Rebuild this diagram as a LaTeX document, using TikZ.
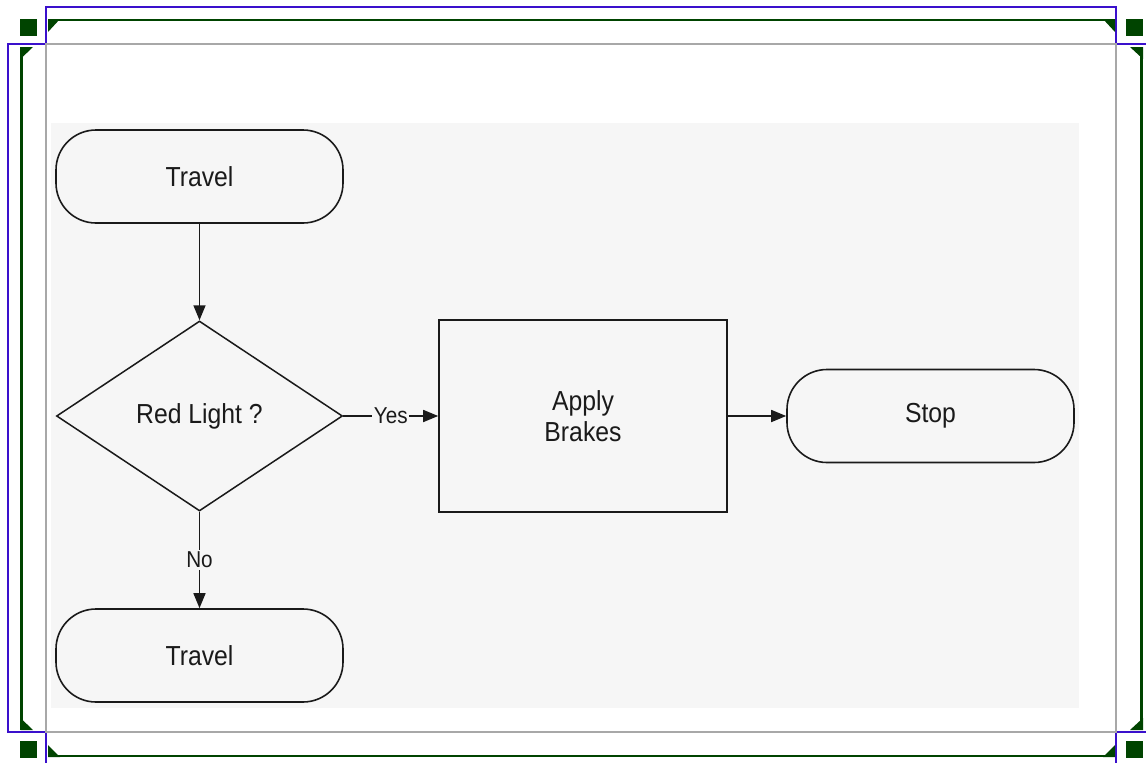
\documentclass[tikz,border=0pt]{standalone}
\usepackage{fontspec}
\setmainfont{Liberation Sans}
\newfontfamily\chartfont[FakeStretch=0.9]{Liberation Sans}
\usetikzlibrary{shapes.geometric,arrows.meta}

\definecolor{selblue}{HTML}{3A10CC}
\definecolor{handlegreen}{HTML}{004400}
\definecolor{framegrey}{HTML}{A8A8A8}
\definecolor{canvas}{HTML}{F6F6F6}
\definecolor{ink}{HTML}{1A1A1A}

\tikzset{
  boxtext/.style={font=\chartfont\fontsize{27.5}{31}\selectfont, text=ink, align=center},
  terminal/.style={boxtext, draw=ink, line width=1.6pt, rounded corners=40pt,
    minimum width=287pt, minimum height=93pt, inner sep=0pt},
  decision/.style={boxtext, diamond, draw=ink, line width=1.5pt,
    minimum width=286pt, minimum height=190pt, inner sep=0pt, aspect=1.5},
  process/.style={boxtext, rectangle, draw=ink, line width=1.6pt,
    minimum width=288pt, minimum height=192pt, inner sep=0pt},
  flow/.style={draw=ink, line width=1.6pt, -{Triangle[length=15pt,width=12pt]}},
  edgelabel/.style={fill=canvas, inner sep=1.5pt, text=ink,
    font=\chartfont\fontsize{23}{25}\selectfont},
  selline/.style={draw=selblue, line width=2.8pt},
  greenline/.style={draw=handlegreen, line width=2.4pt},
  greentip/.style={fill=handlegreen},
  handle/.style={fill=handlegreen}
}

\begin{document}
\begin{tikzpicture}[x=1pt,y=-1pt]
  \useasboundingbox (0,0) rectangle (1146,763);
  \clip (0,0) rectangle (1146,763);
  \fill[white] (0,0) rectangle (1146,763);

  % selection outlines
  \draw[selline] (46,7) rectangle (1116,790);
  \draw[selline] (8,44) rectangle (1170,732);

  % picture frame and canvas
  \filldraw[fill=white, draw=framegrey, line width=2.4pt] (46,44) rectangle (1116,732);
  \fill[canvas] (51,123) rectangle (1079,708);

  % green guide lines with mitred ends
  \draw[greenline] (48,20) -- (1115,20);
  \draw[greenline] (48,756) -- (1115,756);
  \draw[greenline] (21.5,47) -- (21.5,730);
  \draw[greenline] (1141.5,47) -- (1141.5,730);
  \fill[greentip] (48,19) -- (60,19) -- (48,32) -- cycle;
  \fill[greentip] (1103,19) -- (1115,19) -- (1115,32) -- cycle;
  \fill[greentip] (48,745) -- (48,757) -- (60,757) -- cycle;
  \fill[greentip] (1103,757) -- (1115,757) -- (1115,745) -- cycle;
  \fill[greentip] (20.5,47) -- (33,47) -- (20.5,59) -- cycle;
  \fill[greentip] (1130,47) -- (1143,47) -- (1143,59) -- cycle;
  \fill[greentip] (20.5,718) -- (20.5,730) -- (33,730) -- cycle;
  \fill[greentip] (1130,730) -- (1143,730) -- (1143,718) -- cycle;

  % corner handles
  \fill[handle] (20,19) rectangle (37,36);
  \fill[handle] (1126,19) rectangle (1143,36);
  \fill[handle] (20,741) rectangle (37,758);
  \fill[handle] (1126,741) rectangle (1143,758);

  % flowchart
  \node[terminal] (travelA) at (199.5,176.5) {Travel};
  \node[decision] (redlight) at (199.5,416) {Red Light ?};
  \node[process] (brakes) at (583,416) {Apply\\Brakes};
  \node[terminal] (stop) at (930.5,416) {Stop};
  \node[terminal] (travelB) at (199.5,655.5) {Travel};

  \draw[flow] (travelA.south) -- (redlight.north);
  \draw[flow] (redlight.east) -- node[edgelabel] {Yes} (brakes.west);
  \draw[flow] (brakes.east) -- (stop.west);
  \draw[flow] (redlight.south) -- node[edgelabel] {No} (travelB.north);
\end{tikzpicture}
\end{document}
